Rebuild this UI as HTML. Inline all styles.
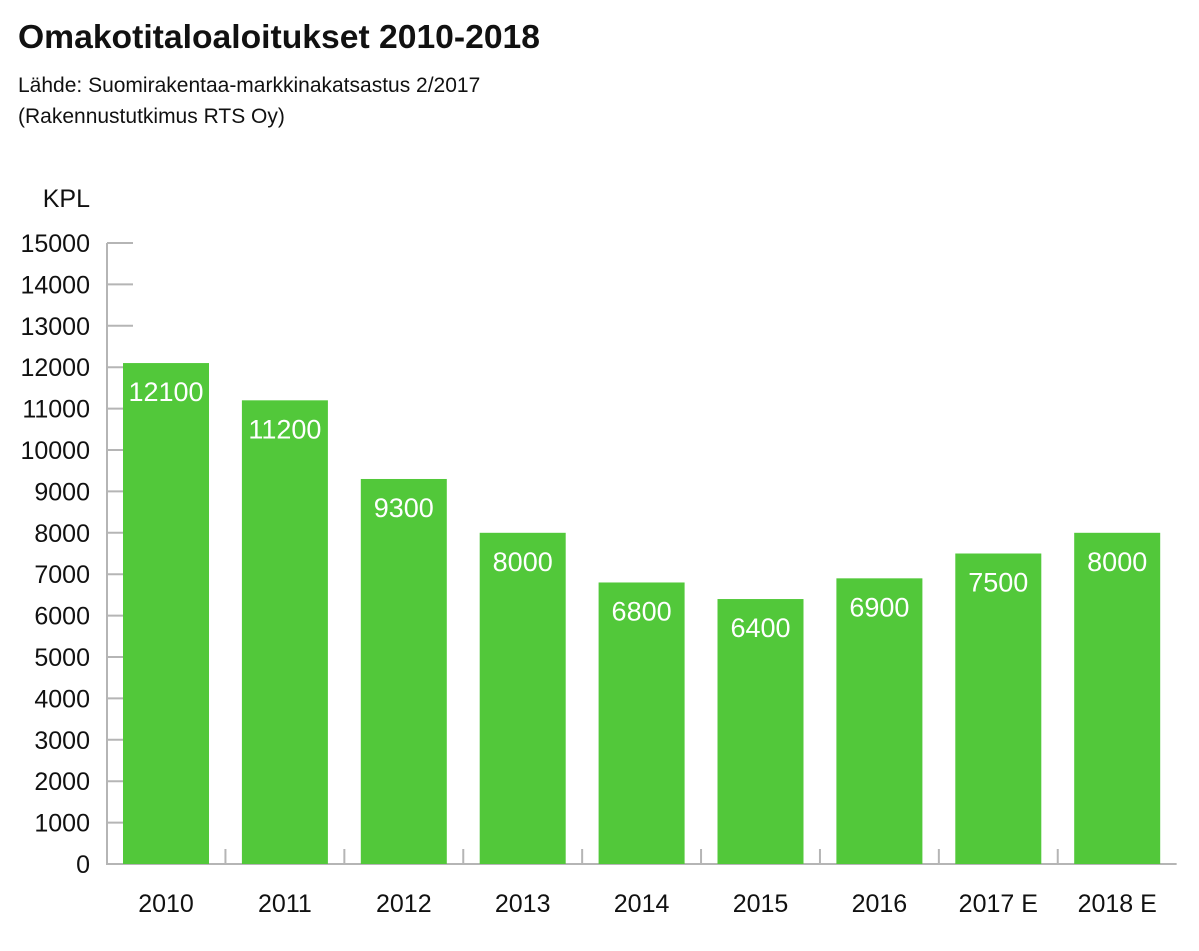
<!DOCTYPE html>
<html><head><meta charset="utf-8"><style>
body{margin:0;background:#fff;font-family:"Liberation Sans",sans-serif;}
svg text{font-family:"Liberation Sans",sans-serif;}
</style></head><body>
<svg width="1199" height="946" xmlns="http://www.w3.org/2000/svg">
<text x="18" y="48" font-size="33" font-weight="bold" fill="#111" textLength="522" lengthAdjust="spacingAndGlyphs">Omakotitaloaloitukset 2010-2018</text>
<text x="18" y="92" font-size="21" fill="#111">Lähde: Suomirakentaa-markkinakatsastus 2/2017</text>
<text x="18" y="123" font-size="21" fill="#111">(Rakennustutkimus RTS Oy)</text>
<text x="90" y="207" font-size="25" fill="#111" text-anchor="end">KPL</text>
<g id="axes"></g><g id="bars"></g>
</svg>
<script>
const categories=["2010","2011","2012","2013","2014","2015","2016","2017 E","2018 E"];
const values=[12100,11200,9300,8000,6800,6400,6900,7500,8000];
const yTicks=[0,1000,2000,3000,4000,5000,6000,7000,8000,9000,10000,11000,12000,13000,14000,15000];
const NS="http://www.w3.org/2000/svg";
const y0=864,yTop=243,yMax=15000;
const y=v=>y0-(v/yMax)*(y0-yTop);
const step=118.9,x0=107;
const xc=i=>166+i*step;
const axes=document.getElementById('axes'),bars=document.getElementById('bars');
function mk(tag,attrs,parent){const e=document.createElementNS(NS,tag);for(const k in attrs)e.setAttribute(k,attrs[k]);parent.appendChild(e);return e;}
yTicks.forEach(t=>{
  const l=mk('line',{x1:x0,x2:133,y1:y(t),y2:y(t),stroke:'#b5b5b5','stroke-width':2},axes);
  
  
  const tx=mk('text',{x:90,y:y(t)+9,'font-size':25,fill:'#111','text-anchor':'end'},axes);
  tx.textContent=t;
  
  
});
const ax=mk('line',{x1:x0,x2:x0,y1:y(yMax),y2:y0+1,stroke:'#b5b5b5','stroke-width':2},axes);


const bl=mk('line',{x1:x0,x2:xc(categories.length-1)+step/2,y1:y0,y2:y0,stroke:'#b5b5b5','stroke-width':2},axes);


categories.forEach((c,i)=>{
  if(i<categories.length-1){
    const s=mk('line',{x1:xc(i)+step/2,x2:xc(i)+step/2,y1:849,y2:864,stroke:'#b5b5b5','stroke-width':2},axes);
    
    
  }
  const r=mk('rect',{x:xc(i)-43,y:y(values[i]),width:86,height:y0-y(values[i]),fill:'#52c83a'},bars);
  
  
  const v=mk('text',{x:xc(i),y:y(values[i])+38,'font-size':27,fill:'#fff','text-anchor':'middle'},bars);
  v.textContent=values[i];
  
  
  const xl=mk('text',{x:xc(i),y:912,'font-size':25,fill:'#111','text-anchor':'middle'},axes);
  xl.textContent=c;
  
  
});
</script>
</body></html>
